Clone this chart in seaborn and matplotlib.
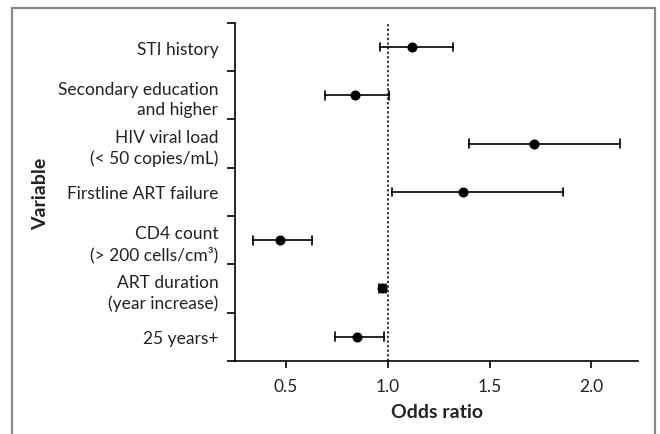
import seaborn as sns
import pandas as pd
import matplotlib.pyplot as plt
from matplotlib.patches import Rectangle

# values (odds ratio with 95% CI)
variables = [
	"STI history",
	"Secondary education\nand higher",
	"HIV viral load\n(< 50 copies/mL)",
	"Firstline ART failure",
	"CD4 count\n(> 200 cells/cm\u00b3)",
	"ART duration\n(year increase)",
	"25 years+",
]
odds_ratio = [1.12, 0.84, 1.72, 1.37, 0.47, 0.97, 0.85]
ci_lower = [0.96, 0.69, 1.40, 1.02, 0.34, 0.955, 0.74]
ci_upper = [1.32, 1.005, 2.14, 1.86, 0.63, 0.99, 0.98]
x_ticks = [0.5, 1.0, 1.5, 2.0]

# long table: lower / estimate / upper per variable, so the median is the
# point and the 0-100 percentile interval is the CI
rows = []
for v, lo, est, hi in zip(variables, ci_lower, odds_ratio, ci_upper):
	for val in (lo, est, hi):
		rows.append({"Variable": v, "Odds ratio": val})
df = pd.DataFrame(rows)

sns.set_style("ticks")
plt.rcParams['font.family'] = ['Lato', 'DejaVu Sans']

fig = plt.figure(figsize=(6.6, 4.35), dpi=100)
ax = fig.add_axes([0.356, 0.168, 0.611, 0.777])

sns.pointplot(
	data=df,
	x="Odds ratio",
	y="Variable",
	order=variables,
	estimator="median",
	errorbar=("pi", 100),
	capsize=0.18,
	color="black",
	linestyle="none",
	marker="o",
	markersize=5.2,
	err_kws={"linewidth": 1.2},
	ax=ax,
)

ax.axvline(1.0, color="black", linestyle=(0, (1.5, 1.5)), linewidth=1.1)

ax.set_xlim(0.25, 2.23)
ax.set_ylim(len(variables) - 0.5, -0.5)
ax.set_xticks(x_ticks)
ax.set_xticklabels([f"{t:.1f}" for t in x_ticks])

# ticks sit on category boundaries, labels in between
ax.set_yticks([i - 0.5 for i in range(len(variables) + 1)])
ax.set_yticklabels([])
ax.set_yticks(range(len(variables)), minor=True)
ax.set_yticklabels(variables, minor=True, ha="right", multialignment="right", linespacing=1.35)
ax.tick_params(axis="y", which="minor", length=0, pad=12, labelsize=12.5, colors="#222222")
ax.tick_params(axis="y", which="major", length=6, width=1.2, color="black")
ax.tick_params(axis="x", length=5, width=1.2, labelsize=12.5, pad=7,
	color="black", labelcolor="#222222")

for s in ["top", "right"]:
	ax.spines[s].set_visible(False)
for s in ["left", "bottom"]:
	ax.spines[s].set_linewidth(1.2)
	ax.spines[s].set_color("black")

ax.set_xlabel("Odds ratio", fontsize=14, fontweight="bold", color="#222222", labelpad=7)
ax.set_ylabel("")
fig.text(0.062, 0.555, "Variable", rotation=90, fontsize=14, fontweight="bold",
	color="#222222", ha="center", va="center")

# outer frame around the figure, open at the bottom
frame = Rectangle((12 / 660, -0.05), (655 - 12) / 660, 1.05 - 9 / 435,
	transform=fig.transFigure, fill=False, edgecolor="#888888", linewidth=1.6)
fig.patches.append(frame)

plt.savefig("out.png", dpi=100)
